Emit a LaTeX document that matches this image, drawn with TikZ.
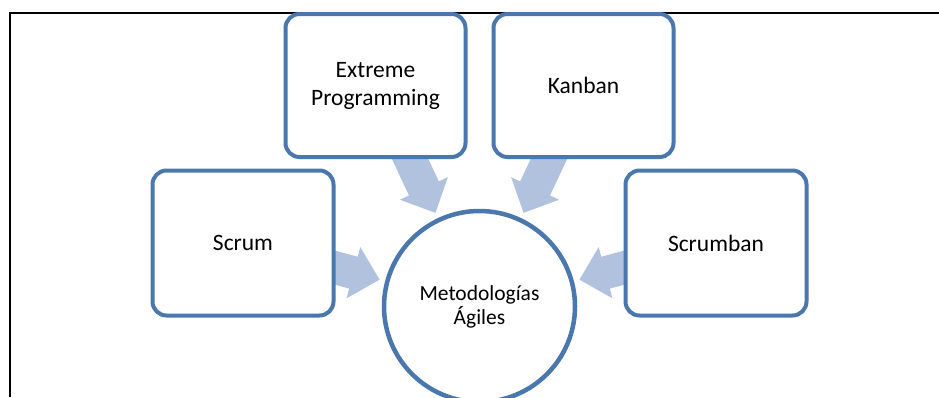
\documentclass[tikz,border=0pt]{standalone}
\usepackage{fontspec}
\setmainfont{Carlito}
\usetikzlibrary{calc,backgrounds}
\definecolor{boxblue}{RGB}{74,120,174}
\definecolor{arrowblue}{RGB}{176,194,222}
\newcommand{\agilearrow}[1]{%
  \coordinate (#1-t) at ($(meta.center)!103.5pt!(#1.center)$);
  \coordinate (#1-h) at ($(#1-t)!27pt!(#1.center)$);
  \fill[flow] ($(#1.center)!16.5pt!90:(#1-t)$) -- ($(#1-h)!16.5pt!90:(#1-t)$) -- ($(#1-h)!26.5pt!90:(#1-t)$) -- (#1-t) -- ($(#1-h)!26.5pt!-90:(#1-t)$) -- ($(#1-h)!16.5pt!-90:(#1-t)$) -- ($(#1.center)!16.5pt!-90:(#1-t)$) -- cycle;}
\begin{document}
\begin{tikzpicture}[x=1pt,y=-1pt,
  stepbox/.style={draw=boxblue, line width=4pt, fill=white, rounded corners=14pt, minimum width=181pt, minimum height=145pt, inner sep=0pt, align=center, font=\fontsize{23.5pt}{28pt}\selectfont},
  hub/.style={circle, draw=boxblue, line width=4.5pt, fill=white, minimum size=191pt, inner sep=0pt, align=center, font=\fontsize{21.5pt}{24pt}\selectfont},
  flow/.style={fill=arrowblue},
  framestyle/.style={draw=black, line width=2pt}]
\useasboundingbox (0,0) rectangle (939,397);
\node[hub] (meta) at (479.5,306.5) {Metodologías\\Ágiles};
\node[stepbox] (scrum) at (243,243) {Scrum};
\node[stepbox] (scrumban) at (716,243) {Scrumban};
\node[stepbox, minimum width=180pt, minimum height=143pt] (xp) at (375.5,85.5) {Extreme\\Programming};
\node[stepbox, minimum width=180pt, minimum height=143pt] (kanban) at (583.5,85.5) {Kanban};
\begin{scope}[on background layer]
  \coordinate (fa) at (9.5,397);
  \coordinate (fb) at (9.5,12.5);
  \coordinate (fc) at (939,12.5);
  \draw[framestyle] (fa) -- (fb) -- (fc);
  \agilearrow{scrum}
  \agilearrow{scrumban}
  \agilearrow{xp}
  \agilearrow{kanban}
\end{scope}
\end{tikzpicture}
\end{document}
